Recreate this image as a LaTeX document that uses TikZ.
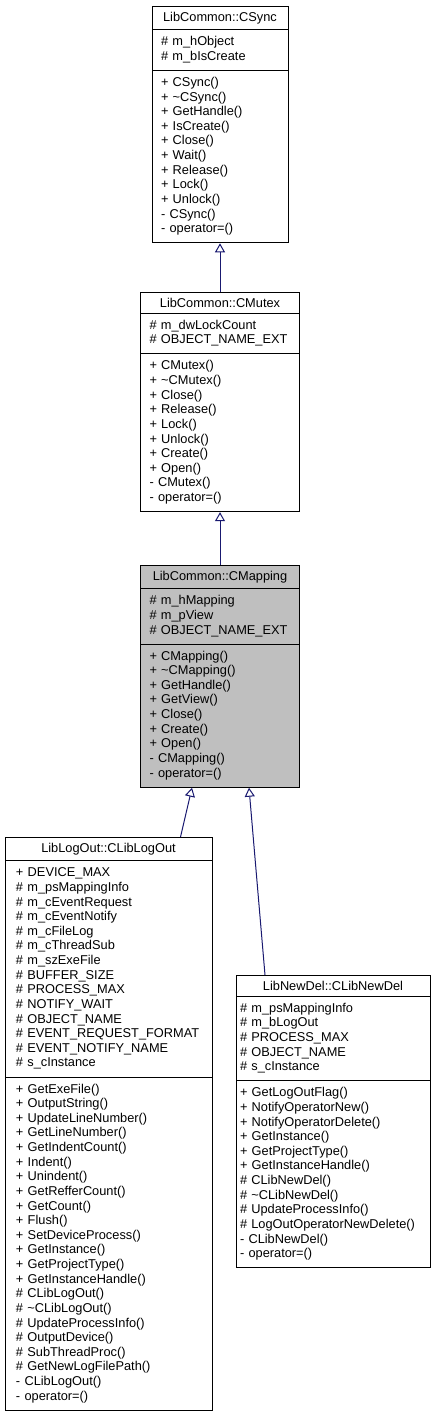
\documentclass[tikz,border=0pt]{standalone}
\usepackage{fontspec}
\setmainfont{Liberation Sans}
\usepackage{xcolor}
\usepackage{tikz}
\usetikzlibrary{shapes.multipart,
                arrows.meta,
                calc}

\newcommand{\classtitle}[1]{\hfill#1\hfill\mbox{}}
\newcommand{\members}[1]{\strut#1\strut}

\begin{document}
\begin{tikzpicture}
[x=1pt,y=-1pt,line join=miter,
class box/.style={rectangle split,rectangle split parts=3,draw=black,line width=1pt,
  fill=white,anchor=north,align=left,inner ysep=5.2pt,inner xsep=9pt,
  font=\fontsize{12.8pt}{14.63pt}\selectfont},
base class/.style={class box,fill=mapfill},
inherit line/.style={draw=edgecolor,line width=1pt,-{Triangle[open,length=9pt,width=10pt]}}]
% Colors
\definecolor{edgecolor}{HTML}{191970}
\definecolor{mapfill}{HTML}{BFBFBF}
\useasboundingbox (0,0) rectangle (437,1417);
% The classes
\node[class box,text width=118pt] (csync) at (220,6)
{\classtitle{LibCommon::CSync}
\nodepart{second}\members{\#~m\_hObject\\
\#~m\_bIsCreate}
\nodepart{third}\members{+~CSync()\\
+~\textasciitilde CSync()\\
+~GetHandle()\\
+~IsCreate()\\
+~Close()\\
+~Wait()\\
+~Release()\\
+~Lock()\\
+~Unlock()\\
-~CSync()\\
-~operator=()}};
\node[class box,text width=141pt] (cmutex) at (220,292)
{\classtitle{LibCommon::CMutex}
\nodepart{second}\members{\#~m\_dwLockCount\\
\#~OBJECT\_NAME\_EXT}
\nodepart{third}\members{+~CMutex()\\
+~\textasciitilde CMutex()\\
+~Close()\\
+~Release()\\
+~Lock()\\
+~Unlock()\\
+~Create()\\
+~Open()\\
-~CMutex()\\
-~operator=()}};
\node[base class,text width=141pt] (cmapping) at (220,565)
{\classtitle{LibCommon::CMapping}
\nodepart{second}\members{\#~m\_hMapping\\
\#~m\_pView\\
\#~OBJECT\_NAME\_EXT}
\nodepart{third}\members{+~CMapping()\\
+~\textasciitilde CMapping()\\
+~GetHandle()\\
+~GetView()\\
+~Close()\\
+~Create()\\
+~Open()\\
-~CMapping()\\
-~operator=()}};
\node[class box,text width=185pt,inner xsep=11pt] (logout) at (108.5,837)
{\classtitle{LibLogOut::CLibLogOut}
\nodepart{second}\members{+~DEVICE\_MAX\\
\#~m\_psMappingInfo\\
\#~m\_cEventRequest\\
\#~m\_cEventNotify\\
\#~m\_cFileLog\\
\#~m\_cThreadSub\\
\#~m\_szExeFile\\
\#~BUFFER\_SIZE\\
\#~PROCESS\_MAX\\
\#~NOTIFY\_WAIT\\
\#~OBJECT\_NAME\\
\#~EVENT\_REQUEST\_FORMAT\\
\#~EVENT\_NOTIFY\_NAME\\
\#~s\_cInstance}
\nodepart{third}\members{+~GetExeFile()\\
+~OutputString()\\
+~UpdateLineNumber()\\
+~GetLineNumber()\\
+~GetIndentCount()\\
+~Indent()\\
+~Unindent()\\
+~GetRefferCount()\\
+~GetCount()\\
+~Flush()\\
+~SetDeviceProcess()\\
+~GetInstance()\\
+~GetProjectType()\\
+~GetInstanceHandle()\\
\#~CLibLogOut()\\
\#~\textasciitilde CLibLogOut()\\
\#~UpdateProcessInfo()\\
\#~OutputDevice()\\
\#~SubThreadProc()\\
\#~GetNewLogFilePath()\\
-~CLibLogOut()\\
-~operator=()}};
\node[class box,text width=186pt,inner xsep=4pt] (newdel) at (333,975)
{\classtitle{LibNewDel::CLibNewDel}
\nodepart{second}\members{\#~m\_psMappingInfo\\
\#~m\_bLogOut\\
\#~PROCESS\_MAX\\
\#~OBJECT\_NAME\\
\#~s\_cInstance}
\nodepart{third}\members{+~GetLogOutFlag()\\
+~NotifyOperatorNew()\\
+~NotifyOperatorDelete()\\
+~GetInstance()\\
+~GetProjectType()\\
+~GetInstanceHandle()\\
\#~CLibNewDel()\\
\#~\textasciitilde CLibNewDel()\\
\#~UpdateProcessInfo()\\
\#~LogOutOperatorNewDelete()\\
-~CLibNewDel()\\
-~operator=()}};
% Inheritance
\draw[inherit line] (cmutex.north) -- (csync.south);
\draw[inherit line] (cmapping.north) -- (cmutex.south);
\draw[inherit line] ([xshift=-32pt]logout.north east) -- ([xshift=-28pt]cmapping.south);
\draw[inherit line] ([xshift=-68pt]newdel.north) -- ([xshift=29pt]cmapping.south);
\end{tikzpicture}
\end{document}
